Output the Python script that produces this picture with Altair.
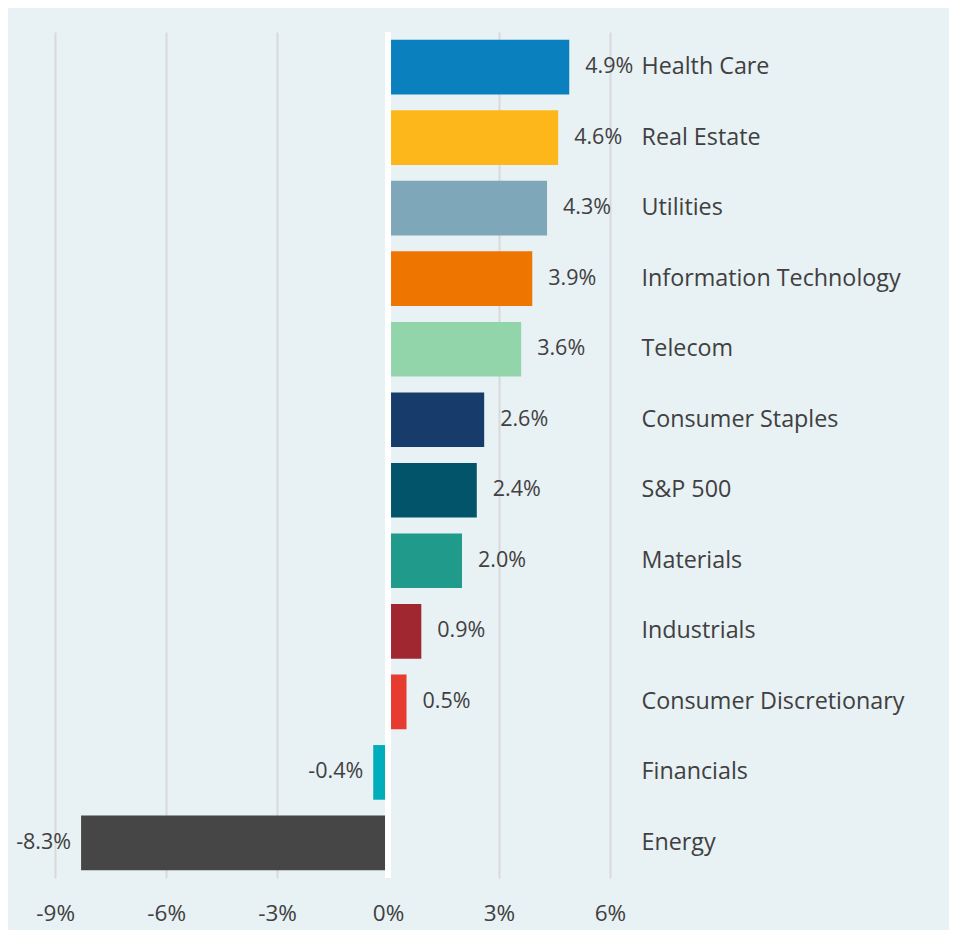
import altair as alt
import pandas as pd

categories = ["Health Care", "Real Estate", "Utilities", "Information Technology",
              "Telecom", "Consumer Staples", "S&P 500", "Materials", "Industrials",
              "Consumer Discretionary", "Financials", "Energy"]
values = [4.9, 4.6, 4.3, 3.9, 3.6, 2.6, 2.4, 2.0, 0.9, 0.5, -0.4, -8.3]
colors = ["#0B80BF", "#FDB71A", "#7FA7BA", "#EE7600", "#93D5AB", "#173C6B",
          "#02546A", "#209A8A", "#A0262F", "#E63B2E", "#00ADBB", "#464646"]
tick_values = [-9, -6, -3, 0, 3, 6]

df = pd.DataFrame({"category": categories, "value": values})

FONT = "Open Sans"
TXT = "#404040"
LABEL_EXPR = "(datum.value < 0 ? '-' : '') + format(abs(datum.value), '.1f') + '%'"

x_scale = alt.Scale(domain=[-9.6, 6.57], nice=False, zero=False)
y_scale = alt.Scale(domain=categories, paddingInner=0.225, paddingOuter=0.11)

base = alt.Chart(df)

bars = base.mark_bar().encode(
    x=alt.X("value:Q", scale=x_scale,
            axis=alt.Axis(values=tick_values, title=None, domain=False, ticks=False,
                          grid=True, gridColor="#D9D9D9", gridWidth=2,
                          labelExpr="datum.value + '%'", labelFont=FONT,
                          labelFontSize=22.5, labelColor=TXT, labelPadding=24)),
    y=alt.Y("category:N", scale=y_scale, sort=categories,
            axis=alt.Axis(orient="right", title=None, domain=False, ticks=False,
                          labelFont=FONT, labelFontSize=23.3, labelColor=TXT,
                          labelPadding=10, labelAlign="left", labelLimit=400)),
    color=alt.Color("category:N", scale=alt.Scale(domain=categories, range=colors),
                    legend=None),
)

pos_labels = base.transform_filter("datum.value >= 0").transform_calculate(
    label=LABEL_EXPR
).mark_text(align="left", baseline="middle", dx=16, font=FONT, fontSize=21.5,
            color=TXT).encode(
    x=alt.X("value:Q", scale=x_scale),
    y=alt.Y("category:N", scale=y_scale, sort=categories),
    text="label:N",
)

neg_labels = base.transform_filter("datum.value < 0").transform_calculate(
    label=LABEL_EXPR
).mark_text(align="right", baseline="middle", dx=-10, font=FONT, fontSize=21.5,
            color=TXT).encode(
    x=alt.X("value:Q", scale=x_scale),
    y=alt.Y("category:N", scale=y_scale, sort=categories),
    text="label:N",
)

zero_rule = alt.Chart(pd.DataFrame({"z": [0]})).mark_rule(
    color="white", strokeWidth=6).encode(x=alt.X("z:Q", scale=x_scale))

chart = alt.layer(bars, zero_rule, pos_labels, neg_labels).properties(
    width=598, height=846,
    autosize=alt.AutoSizeParams(type="none"),
    padding={"left": 25, "top": 24, "right": 318, "bottom": 52},
    background="#E8F1F4",
).configure_view(stroke=None)

chart.save("out.html", embed_options={"renderer": "svg", "actions": False})
